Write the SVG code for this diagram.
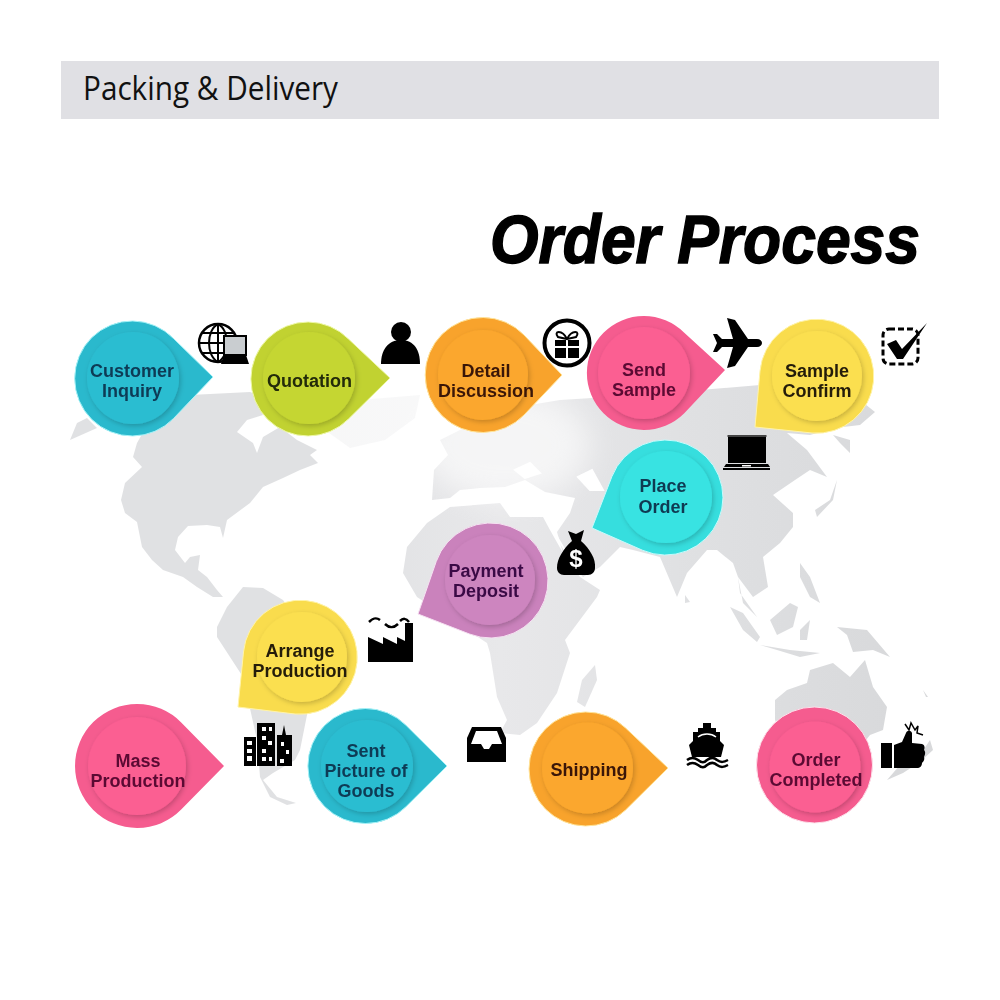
<svg xmlns="http://www.w3.org/2000/svg" width="1000" height="1000" viewBox="0 0 1000 1000">
<style>
.lb{font-family:"Liberation Sans",Arial,sans-serif;font-weight:700;font-size:18px;text-anchor:middle}
.ic{fill:#000}
.w{fill:#fff}
.inner{filter:url(#sh)}
.land{fill:url(#mapg)}
</style>
<defs>
<filter id="sh" x="-20%" y="-20%" width="145%" height="145%"><feDropShadow dx="1.500" dy="2" stdDeviation="2.500" flood-color="#000" flood-opacity=".2"/></filter>
<filter id="soft"><feGaussianBlur stdDeviation=".7"/></filter>
<filter id="fade" x="-20%" y="-20%" width="140%" height="140%"><feGaussianBlur stdDeviation="14"/></filter>
<linearGradient id="mapg" gradientUnits="userSpaceOnUse" x1="100" y1="500" x2="900" y2="500"><stop offset="0" stop-color="#e0e1e3"/><stop offset=".3" stop-color="#e0e1e3"/><stop offset=".5" stop-color="#e8e8ea"/><stop offset=".75" stop-color="#dfe0e2"/><stop offset="1" stop-color="#d8d9db"/></linearGradient>
</defs>
<rect width="1000" height="1000" fill="#fff"/>
<g id="header"><rect x="61" y="61" width="878" height="58" fill="#e0e0e4"/>
<text x="83" y="100" font-family="'Open Sans',sans-serif" font-size="32" textLength="255" lengthAdjust="spacingAndGlyphs" fill="#111">Packing &amp; Delivery</text></g>
<g id="title"><text x="490" y="263" font-family="'Liberation Sans',Arial,sans-serif" font-weight="700" font-style="italic" font-size="69" textLength="430" lengthAdjust="spacingAndGlyphs" fill="#000" stroke="#000" stroke-width="1.500">Order Process</text></g>

<g id="world-map" filter="url(#soft)">
<path class="land" d="M70 440L97 428L87 418L77 423ZM137 443L133 457L142 467L125 483L121 500L125 513L137 522L142 547L152 560L163 570L183 577L197 587L213 597L223 597L217 590L207 577L198 570L200 555L190 557L185 563L175 550L178 537L188 526L207 525L220 527L223 538L227 520L250 503L263 487L283 478L300 470L318 463L310 455L317 450L297 440L280 427L263 437L257 453L253 443L237 432L247 420L263 415L257 403L283 400L300 410L250 392L190 395L150 420Z"/>
<path class="land" d="M335 402L420 395L415 418L385 440L350 448L325 430Z" opacity=".25"/>
<path class="land" d="M217 627L227 607L243 587L263 588L283 600L320 650L310 700L306 720L300 750L295 760L273 773L263 780L277 797L296 803L287 805L270 797L260 777L257 740L243 677L217 637Z"/>
<path class="land" d="M500 503L450 507L427 523L407 547L403 573L417 597L487 643L490 653L497 697L507 720L500 733L520 735L537 723L557 693L570 653L565 640L597 597L600 590L580 577L563 553L550 530L543 517L510 517Z"/>
<path class="land" d="M595 665L597 680L585 707L577 702L582 680Z"/>
<path class="land" d="M432 500L434 470L448 455L440 440L470 425L500 410L560 400L640 395L700 390L760 385L860 400L875 412L860 425L835 428L810 435L787 433L807 450L827 477L810 470L795 480L773 495L793 513L793 527L780 543L763 557L768 587L753 597L738 577L733 563L717 550L707 550L687 573L677 597L660 557L633 550L620 547L600 567L583 577L563 553L557 532L570 513L575 498L545 492L525 480L505 487L480 488L460 490L450 498Z"/>
<path d="M578 477L592 470L603 490L590 490ZM515 470L530 463L540 473L525 478ZM548 522L566 552" fill="#fff" stroke="#fff" stroke-width="2"/>
<ellipse cx="505" cy="445" rx="85" ry="55" fill="#fff" opacity=".6" filter="url(#fade)"/>
<path class="land" d="M833 435L850 440L850 453L840 443ZM837 480L833 500L817 517L815 510L830 500ZM730 607L743 613L760 637L757 642L743 630ZM738 577L740 593L757 617L743 603ZM770 620L790 603L798 607L793 627L777 635ZM760 645L790 650L820 653L800 657L777 650ZM800 630L810 620L807 640L800 640ZM837 627L867 630L890 657L873 650L853 652L847 635ZM800 563L810 577L820 603L810 597L800 577ZM685 595L690 602L685 603ZM775 700L787 690L807 683L810 670L833 663L850 677L865 660L873 687L887 707L883 730L870 735L850 760L790 760L775 720ZM930 740L933 750L920 762L903 773L887 780L900 765L920 755ZM923 690L928 697L926 697Z"/>
</g>

<g id="customer-inquiry"><path d="M173.500 338.500L213 377L173.500 418.500A57.500 57.500 0 1 1 173.500 338.500Z" fill="#2ab9cd" stroke="#a5f2f7" stroke-width="1"/><circle class="inner" cx="133" cy="378" r="46" fill="#2cbdd1"/>
<text class="lb" fill="#0e3b55"><tspan x="132" y="377">Customer</tspan><tspan x="132" y="397">Inquiry</tspan></text></g>
<g id="icon-globe"><circle cx="218" cy="343" r="19" fill="#fff" stroke="#000" stroke-width="2.500"/><path d="M199 343H237M201 333H235M201 353H235M218 324V362M218 324C206 330 206 356 218 362M218 324C230 330 230 356 218 362" fill="none" stroke="#000" stroke-width="2"/><rect x="224" y="336" width="22" height="19" fill="#c9cdd0" stroke="#000" stroke-width="2"/><path class="ic" d="M224 355H246L249 364H221Z"/></g>

<g id="quotation"><path d="M348.500 339L390 378L348.500 419A57 57 0 1 1 348.500 339Z" fill="#c1d231" stroke="#eef8a8" stroke-width="1"/><circle class="inner" cx="309" cy="378" r="46" fill="#c5d633"/>
<text class="lb" fill="#232b0a" x="309.500" y="387">Quotation</text></g>
<g id="icon-person"><circle class="ic" cx="401" cy="332" r="10"/><path class="ic" d="M381 364C381 350 388 340 401 340C414 340 420 350 420 364Z"/></g>

<g id="detail-discussion"><path d="M524 335L562 375L524 415A57.500 57.500 0 1 1 524 335Z" fill="#f8a32c" stroke="#ffe49a" stroke-width="1"/><circle class="inner" cx="483" cy="375" r="45" fill="#fba72d"/>
<text class="lb" fill="#3a1608"><tspan x="486" y="377">Detail</tspan><tspan x="486" y="397">Discussion</tspan></text></g>
<g id="icon-gift"><circle cx="567" cy="343" r="22.500" fill="#fff" stroke="#000" stroke-width="4"/><path class="ic" d="M555 340H566V346H555ZM568 340H579V346H568ZM555 348H566V358H555ZM568 348H579V358H568Z"/><path d="M567 339C562 329 553 331 558 337L567 339C572 329 581 331 576 337L567 339" fill="none" stroke="#000" stroke-width="2"/></g>

<g id="send-sample"><path d="M684 332.500L725 370L684 413.500A57 57 0 1 1 684 332.500Z" fill="#f55c8f"/><circle class="inner" cx="644" cy="373" r="46" fill="#fb5e92"/>
<text class="lb" fill="#5b0a33"><tspan x="644" y="376">Send</tspan><tspan x="644" y="396">Sample</tspan></text></g>
<g id="icon-plane"><path class="ic" d="M727 318L735 320L748 339H757C760 339 762 341 762 343C762 345 760 347 757 347H748L735 366L727 368L733 347H722L717 352H713L717 343L713 334H717L722 339H733Z"/></g>

<g id="sample-confirm"><path d="M760 371L755 427L812 433A57 57 0 1 0 760 371Z" fill="#f9dc4d" stroke="#fff3a8" stroke-width="1"/><circle class="inner" cx="817" cy="376" r="45" fill="#fbdf50"/>
<text class="lb" fill="#241c0a"><tspan x="817" y="377">Sample</tspan><tspan x="817" y="397">Confirm</tspan></text></g>
<g id="icon-check"><rect x="883" y="329" width="35" height="35" rx="6" fill="none" stroke="#000" stroke-width="3" stroke-dasharray="6 3"/><path class="ic" d="M887 344L896 340L902 349L927 323L903 359L897 359Z"/></g>

<g id="place-order"><path d="M611.900 476.600L592 528L642.400 550.200A57.500 57.500 0 1 0 611.900 476.600Z" fill="#36dede" stroke="#c5fbfb" stroke-width="1"/><circle class="inner" cx="666" cy="497" r="46" fill="#38e3e2"/>
<text class="lb" fill="#0f3a52"><tspan x="663" y="492">Place</tspan><tspan x="663" y="513">Order</tspan></text></g>
<g id="icon-laptop"><rect class="ic" x="728" y="435" width="38" height="28"/><rect x="727.500" y="435" width="39" height="2" fill="#444"/><path class="ic" d="M726 464H768L770 467H724Z"/><rect class="ic" x="723" y="468" width="47" height="2"/><rect class="w" x="742" y="465" width="9" height="1.500"/></g>

<g id="payment-deposit"><path d="M436.200 561.600L418 614L469.700 634.100A57.500 57.500 0 1 0 436.200 561.600Z" fill="#ca82bc" stroke="#f5e0f1" stroke-width="1"/><circle class="inner" cx="490" cy="580" r="45" fill="#cd85bf"/>
<text class="lb" fill="#3a0a45"><tspan x="486" y="577">Payment</tspan><tspan x="486" y="597">Deposit</tspan></text></g>
<g id="icon-money"><path class="ic" d="M568 531L576 534L584 530L581 541C590 549 596 559 595 568C595 572 592 575 588 575H564C560 575 557 572 557 568C557 559 563 549 572 541Z"/><text x="576" y="567" font-family="'Liberation Sans',Arial,sans-serif" font-weight="700" font-size="24" text-anchor="middle" fill="#fff">$</text></g>

<g id="arrange-production"><path d="M243.500 652L238 707L295 714A57 57 0 1 0 243.500 652Z" fill="#f9dc4d" stroke="#fff3a8" stroke-width="1"/><circle class="inner" cx="302" cy="657" r="45" fill="#fbdf50"/>
<text class="lb" fill="#241c0a"><tspan x="300" y="657">Arrange</tspan><tspan x="300" y="677">Production</tspan></text></g>
<g id="icon-factory"><path class="ic" d="M368 662V637L383 644V637L397 644V637L405 641V623H413V662Z"/><path d="M369 622C373 618 376 617 380 620M385 624C389 628 394 628 398 624M400 621C403 618 406 618 409 622" fill="none" stroke="#000" stroke-width="2.500"/></g>

<g id="mass-production"><path d="M181.200 722.500L224 766L181.200 809.500A62 62 0 1 1 181.200 722.500Z" fill="#f55c8f"/><circle class="inner" cx="137" cy="766" r="49" fill="#fb5e92"/>
<text class="lb" fill="#5b0a33"><tspan x="138" y="767">Mass</tspan><tspan x="138" y="787">Production</tspan></text></g>
<g id="icon-buildings"><path class="ic" d="M244 737H256V766H244ZM257 723H275V766H257ZM277 735H282L284 725L286 735H292V766H277Z"/><path class="w" d="M247 741H252V745H247ZM247 749H252V753H247ZM247 756H252V761H247ZM262 727H266V731H262ZM269 727H272V731H269ZM262 736H266V740H262ZM268 741H272V745H268ZM262 749H266V753H262ZM262 757H266V761H262ZM269 757H272V761H269ZM281 742H284V746H281ZM286 750H289V754H286ZM280 759H284V763H280Z"/></g>

<g id="sent-picture"><path d="M406 725.300L447 766L406 806.700A57.500 57.500 0 1 1 406 725.300Z" fill="#2ab9cd" stroke="#a5f2f7" stroke-width="1"/><circle class="inner" cx="367" cy="766" r="46" fill="#2cbdd1"/>
<text class="lb" fill="#0e3b55"><tspan x="366" y="757">Sent</tspan><tspan x="366" y="777">Picture of</tspan><tspan x="366" y="797">Goods</tspan></text></g>
<g id="icon-inbox"><path class="ic" d="M467 762V738L472 727H501L506 738V762Z"/><path class="w" d="M471 744L476 731H497L502 744H492L489 749H484L481 744Z"/></g>

<g id="shipping"><path d="M625.600 728L668 768L625.600 810A57 57 0 1 1 625.600 728Z" fill="#f8a32c" stroke="#ffe49a" stroke-width="1"/><circle class="inner" cx="587.500" cy="768" r="45.500" fill="#fba72d"/>
<text class="lb" fill="#3a1608" x="589" y="776">Shipping</text></g>
<g id="icon-ship"><path class="ic" d="M703 723H711V728H716V732H720V741L724 745L721 757H692L689 745L693 741V732H698V728H703Z"/><path d="M698 737C703 733 711 733 716 737" fill="none" stroke="#fff" stroke-width="1.500"/><path d="M687 760C691 757 694 757 698 760C702 763 704 763 707 760C711 757 714 757 717 760C721 763 724 762 728 760M687 765C691 762 694 762 698 765C702 768 704 768 707 765C711 762 714 762 717 765C721 768 724 767 728 765" fill="none" stroke="#000" stroke-width="2.500"/></g>

<g id="order-completed"><circle cx="814.500" cy="765" r="58" fill="#f55c8f" stroke="#fde0ea" stroke-width="1"/><circle class="inner" cx="815" cy="767" r="45.500" fill="#fb5e92"/>
<text class="lb" fill="#5b0a33"><tspan x="816" y="766">Order</tspan><tspan x="816" y="786">Completed</tspan></text></g>
<g id="icon-thumb"><rect class="ic" x="881" y="743" width="11" height="25"/><path class="ic" d="M894 745L902 742L906 733C907 730 911 730 912 733L912 743L922 744C925 745 925 748 924 750C926 752 925 755 924 757C925 760 923 762 922 763C922 766 920 768 917 768H894Z"/><path d="M905 724L909 730L911 723L915 730L918 726L917 733L923 735" fill="none" stroke="#000" stroke-width="1.500"/></g>
</svg>
